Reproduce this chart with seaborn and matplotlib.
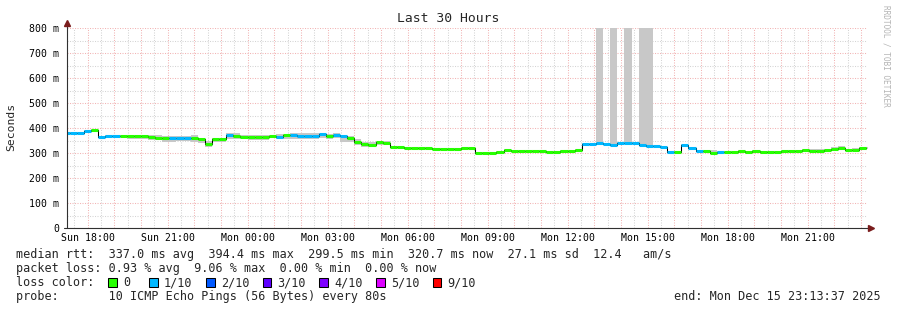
import numpy as np
import matplotlib
matplotlib.use("Agg")
import matplotlib.pyplot as plt
from matplotlib.patches import Rectangle
import seaborn as sns

# ---------------- data ----------------
# time axis in hours since Sun 00:00; graph spans Sun 17:13:37 .. Mon 23:13:37
x_start = 17.2269
x_end = 47.2269
bin_start = 17.065          # start of first 16-minute consolidation bin
bin_hours = 16 / 60

tick_hours = [18, 21, 24, 27, 30, 33, 36, 39, 42, 45]
tick_labels = ["Sun 18:00", "Sun 21:00", "Mon 00:00", "Mon 03:00", "Mon 06:00",
               "Mon 09:00", "Mon 12:00", "Mon 15:00", "Mon 18:00", "Mon 21:00"]
y_ticks = [0, 100, 200, 300, 400, 500, 600, 700, 800]
y_tick_labels = ["0", "100 m", "200 m", "300 m", "400 m", "500 m", "600 m", "700 m", "800 m"]

# median RTT per bin (ms)
median_ms = [381, 381, 382, 388, 393, 366, 370, 370, 370, 368,
             368, 368, 364, 362, 362, 360, 361, 361, 362, 355,
             338, 358, 358, 371, 367, 364, 366, 366, 366, 370,
             366, 373, 373, 367, 367, 368, 377, 370, 373, 367,
             360, 346, 338, 334, 343, 339, 324, 326, 320, 322,
             320, 322, 318, 316, 318, 316, 322, 322, 302, 300,
             300, 305, 313, 308, 309, 309, 310, 310, 305, 303,
             308, 308, 313, 337, 337, 340, 337, 334, 342, 342,
             342, 334, 330, 330, 326, 303, 305, 332, 322, 309,
             310, 300, 303, 305, 305, 309, 305, 309, 305, 303,
             303, 308, 309, 309, 313, 308, 308, 313, 318, 320,
             311, 311, 320, 321]

# loss level per bin (number of lost pings out of 10)
loss_level = [1, 1, 1, 1, 0, 1, 1, 1, 0, 0,
              0, 0, 0, 0, 0, 1, 1, 1, 0, 0,
              0, 0, 0, 1, 0, 0, 0, 0, 0, 0,
              1, 0, 1, 1, 1, 1, 1, 0, 1, 1,
              0, 0, 0, 0, 0, 0, 0, 0, 0, 0,
              0, 0, 0, 0, 0, 0, 0, 0, 0, 0,
              0, 0, 0, 0, 0, 0, 0, 0, 0, 0,
              0, 0, 0, 1, 1, 1, 1, 1, 1, 1,
              1, 1, 1, 1, 1, 1, 0, 1, 1, 1,
              0, 0, 1, 0, 0, 0, 0, 0, 0, 0,
              0, 0, 0, 0, 0, 0, 0, 0, 0, 0,
              0, 0, 0, 0]

# smoke: lowest / highest ping per bin (ms)
smoke_lo = [377, 377, 378, 383, 388, 361, 366, 366, 364, 357,
            357, 357, 352, 352, 344, 344, 347, 347, 344, 340,
            323, 344, 344, 357, 355, 355, 352, 352, 352, 360,
            357, 357, 357, 357, 357, 357, 360, 357, 360, 344,
            344, 333, 325, 323, 333, 331, 320, 322, 316, 318,
            316, 318, 314, 312, 314, 312, 318, 318, 298, 296,
            296, 301, 309, 304, 305, 305, 306, 306, 301, 299,
            304, 304, 309, 331, 331, 332, 331, 330, 338, 338,
            338, 330, 326, 326, 322, 299, 301, 328, 318, 305,
            306, 296, 299, 301, 301, 305, 301, 305, 301, 299,
            299, 304, 305, 305, 309, 304, 304, 309, 314, 316,
            307, 307, 316, 317]
smoke_hi = [384, 384, 385, 392, 396, 370, 373, 373, 373, 371,
            371, 371, 373, 373, 370, 370, 370, 370, 373, 360,
            347, 360, 360, 379, 379, 373, 371, 371, 371, 373,
            376, 376, 379, 379, 379, 379, 381, 376, 379, 373,
            367, 357, 344, 344, 349, 347, 328, 330, 324, 326,
            324, 326, 322, 320, 322, 320, 326, 326, 306, 304,
            304, 309, 317, 312, 313, 313, 314, 314, 309, 307,
            312, 312, 317, 341, 341, 820, 342, 820, 346, 820,
            346, 820, 820, 334, 330, 307, 309, 336, 326, 313,
            314, 313, 307, 310, 310, 314, 310, 314, 310, 308,
            308, 313, 314, 314, 318, 316, 316, 318, 326, 328,
            316, 320, 325, 326]

loss_names = ["0", "1/10", "2/10", "3/10", "4/10", "5/10", "9/10"]
loss_colors = ["#26ff00", "#00b8ff", "#0059ff", "#5e00ff", "#7e00ff", "#dd00ff", "#ff0000"]

legend_line1 = "median rtt:  337.0 ms avg  394.4 ms max  299.5 ms min  320.7 ms now  27.1 ms sd  12.4   am/s"
legend_line2 = "packet loss: 0.93 % avg  9.06 % max  0.00 % min  0.00 % now"
legend_line4 = "probe:       10 ICMP Echo Pings (56 Bytes) every 80s"
end_text = "end: Mon Dec 15 23:13:37 2025"

# ---------------- drawing ----------------
sns.set_style("white")
plt.rcParams["font.family"] = ["DejaVu Sans Mono", "DejaVu Sans"]

W, H = 897, 310
fig = plt.figure(figsize=(W / 100, H / 100), dpi=100)
fig.patch.set_facecolor("white")
ax = fig.add_axes([67 / W, (H - 228) / H, 800 / W, 200 / H])
ax.set_facecolor("white")

n = len(median_ms)
edges = bin_start + bin_hours * np.arange(n + 1)
lo_ext = list(smoke_lo) + [smoke_lo[-1]]
hi_ext = list(smoke_hi) + [smoke_hi[-1]]
med_ext = list(median_ms) + [median_ms[-1]]

# smoke
ax.fill_between(edges, lo_ext, hi_ext, step="post", color="#c8c8c8", lw=0, zorder=1)

# median black step line
sns.lineplot(x=edges, y=med_ext, drawstyle="steps-post", color="black",
             lw=0.75, ax=ax, estimator=None, zorder=2)

# loss-coloured median bands
seg_colors = [loss_colors[l] for l in loss_level]
ax.hlines(median_ms, edges[:-1], edges[1:], colors=seg_colors, lw=2.2,
          capstyle="butt", zorder=3)

ax.set_xlim(x_start, x_end)
ax.set_ylim(0, 800)

# grid
hours = np.arange(18, 48, 1)
ax.set_xticks(hours)
ax.set_xticklabels([tick_labels[tick_hours.index(h)] if h in tick_hours else "" for h in hours])
ax.set_xticks(np.arange(17.5, 47.5, 1), minor=True)
ax.set_yticks(y_ticks)
ax.set_yticklabels(y_tick_labels)
ax.set_yticks(np.arange(50, 800, 100), minor=True)
ax.grid(which="major", color="#f2b4b4", ls=(0, (1, 1.4)), lw=0.75, zorder=0)
ax.grid(which="minor", color="#d4d4d4", ls=(0, (1, 1.4)), lw=0.75, zorder=0)
ax.set_axisbelow(True)
for s in ax.spines.values():
    s.set_visible(False)
ax.tick_params(axis="x", which="major", length=2, width=0.75, pad=1.6,
               labelsize=7.1, color="#404040", labelcolor="black")
ax.tick_params(axis="x", which="minor", length=0)
ax.tick_params(axis="y", which="major", length=2.5, width=0.75, pad=3,
               labelsize=7.1, color="#404040", labelcolor="black")
ax.tick_params(axis="y", which="minor", length=1.5, width=0.75, color="#909090")
ax.set_xlabel("")
ax.set_ylabel("")

# axes with arrows
ax.plot([0, 0], [0, 1.02], transform=ax.transAxes, color="#303030", lw=0.8,
        clip_on=False, zorder=5)
ax.plot([-0.004, 1.003], [0, 0], transform=ax.transAxes, color="#303030", lw=0.8,
        clip_on=False, zorder=5)
ax.plot([0], [1.027], marker="^", ms=4.5, color="#7a1c1c", transform=ax.transAxes,
        clip_on=False, zorder=6)
ax.plot([1.005], [0], marker=">", ms=4.5, color="#7a1c1c", transform=ax.transAxes,
        clip_on=False, zorder=6)

# texts
def fx(px):
    return px / W

def fy(py):
    return 1 - py / H

fig.text(fx(448), fy(19), "Last 30 Hours", ha="center", va="center", fontsize=9.4)
fig.text(fx(11), fy(127), "Seconds", ha="center", va="center", rotation=90, fontsize=8.2)
fig.text(fx(886), fy(5), "RRDTOOL / TOBI OETIKER", ha="center", va="top",
         rotation=-90, fontsize=5.6, color="#b4b4b4")

lfs = 8.5
fig.text(fx(16), fy(258.3), legend_line1, ha="left", va="baseline", fontsize=lfs)
fig.text(fx(16), fy(272.3), legend_line2, ha="left", va="baseline", fontsize=lfs)
fig.text(fx(16), fy(286.3), "loss color:", ha="left", va="baseline", fontsize=lfs)
fig.text(fx(16), fy(300.3), legend_line4, ha="left", va="baseline", fontsize=lfs)
fig.text(fx(881), fy(300.3), end_text, ha="right", va="baseline", fontsize=lfs)

box_x = [108, 149, 206, 262.5, 319, 376, 432.5]
for bx, name, col in zip(box_x, loss_names, loss_colors):
    fig.add_artist(Rectangle((fx(bx), fy(286.5)), 8.5 / W, 8.5 / H,
                             transform=fig.transFigure, facecolor=col,
                             edgecolor="black", lw=0.75))
    fig.text(fx(bx + 15), fy(286.3), name, ha="left", va="baseline", fontsize=lfs)

fig.savefig("out.png", dpi=100, facecolor="white")
